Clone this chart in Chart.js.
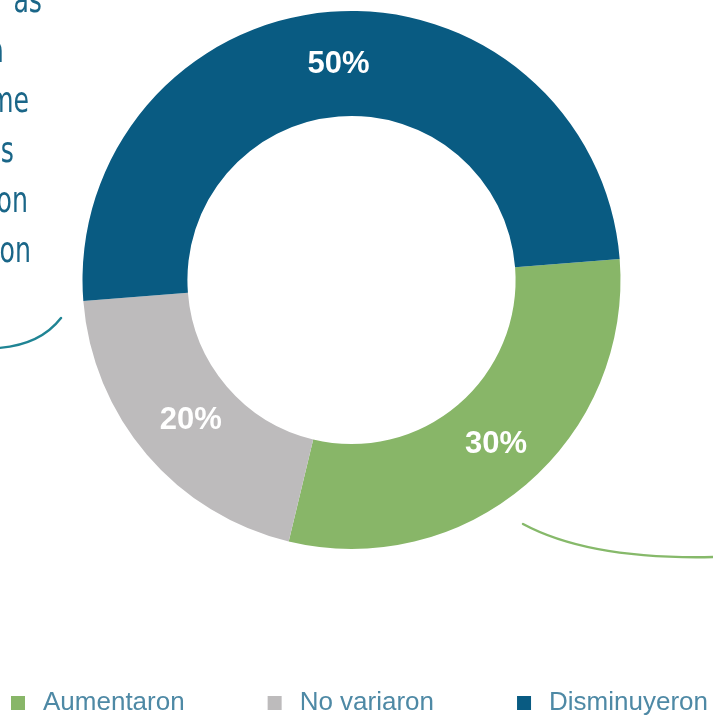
<!DOCTYPE html>
<html>
<head>
<meta charset="utf-8">
<script src="https://cdn.jsdelivr.net/npm/chart.js@4.4.0/dist/chart.umd.min.js"></script>
<style>
  html, body { margin: 0; padding: 0; background: #fff; }
  #wrap { width: 713px; height: 715px; position: relative; }
</style>
</head>
<body>
<div id="wrap"><canvas id="chart" width="713" height="715"></canvas></div>
<script>
const categories = ["Aumentaron", "No variaron", "Disminuyeron"];
const values = [30, 20, 50];
const colors = ["#88b668", "#bdbbbc", "#095b82"];
// pieces of the handwritten note, cut by the left edge
const noteLines = ["as", "a", "me", "s", "on", "on"];

// white % labels in the middle of each ring piece
const sliceLabels = {
  id: "sliceLabels",
  afterDatasetsDraw(chart) {
    const ctx = chart.ctx;
    const meta = chart.getDatasetMeta(0);
    const total = values.reduce((a, b) => a + b, 0);
    ctx.save();
    ctx.fillStyle = "#fff";
    ctx.font = "bold 31px 'Liberation Sans', Arial, sans-serif";
    ctx.textAlign = "center";
    ctx.textBaseline = "middle";
    meta.data.forEach((arc, i) => {
      const p = arc.tooltipPosition();
      ctx.fillText(Math.round(values[i] / total * 100) + "%", p.x + 4, p.y);
    });
    ctx.restore();
  }
};

// handwritten note + curved pointers
const notes = {
  id: "notes",
  afterDraw(chart) {
    const ctx = chart.ctx;
    ctx.save();
    ctx.fillStyle = "#1a6688";
    ctx.font = "36px 'DejaVu Sans', sans-serif";
    ctx.textAlign = "right";
    ctx.textBaseline = "alphabetic";
    const xs = [42, 4, 29, 14, 28, 31];
    noteLines.forEach((t, i) => {
      ctx.save();
      ctx.translate(xs[i], 12 + i * 50);
      ctx.scale(0.7, 1);
      ctx.fillText(t, 0, 0);
      ctx.restore();
    });

    ctx.lineWidth = 2.4;
    ctx.lineCap = "round";
    ctx.strokeStyle = "#1f8494";
    ctx.beginPath();
    ctx.moveTo(-2, 348);
    ctx.quadraticCurveTo(40, 345, 61, 318);
    ctx.stroke();

    ctx.strokeStyle = "#86b96a";
    ctx.beginPath();
    ctx.moveTo(523, 524);
    ctx.quadraticCurveTo(590, 560, 715, 557);
    ctx.stroke();
    ctx.restore();
  }
};

// legend row along the bottom edge
const bottomLegend = {
  id: "bottomLegend",
  afterDraw(chart) {
    const ctx = chart.ctx;
    ctx.save();
    ctx.font = "26px 'Liberation Sans', Arial, sans-serif";
    ctx.textBaseline = "middle";
    let x = 11;
    const y = 703;
    categories.forEach((c, i) => {
      ctx.fillStyle = colors[i];
      ctx.fillRect(x, y - 7, 14, 14);
      ctx.fillStyle = "#4e89a5";
      ctx.fillText(c, x + 32, y);
      x += 32 + ctx.measureText(c).width + 83;
    });
    ctx.restore();
  }
};

new Chart(document.getElementById("chart"), {
  type: "doughnut",
  data: {
    labels: categories,
    datasets: [{
      data: values,
      backgroundColor: colors,
      borderWidth: 0
    }]
  },
  options: {
    responsive: false,
    animation: false,
    rotation: 85.5,
    cutout: "61%",
    layout: { padding: { top: 11, left: 82, right: 92, bottom: 166 } },
    plugins: {
      legend: { display: false },
      tooltip: { enabled: false }
    }
  },
  plugins: [sliceLabels, notes, bottomLegend]
});
</script>
</body>
</html>
